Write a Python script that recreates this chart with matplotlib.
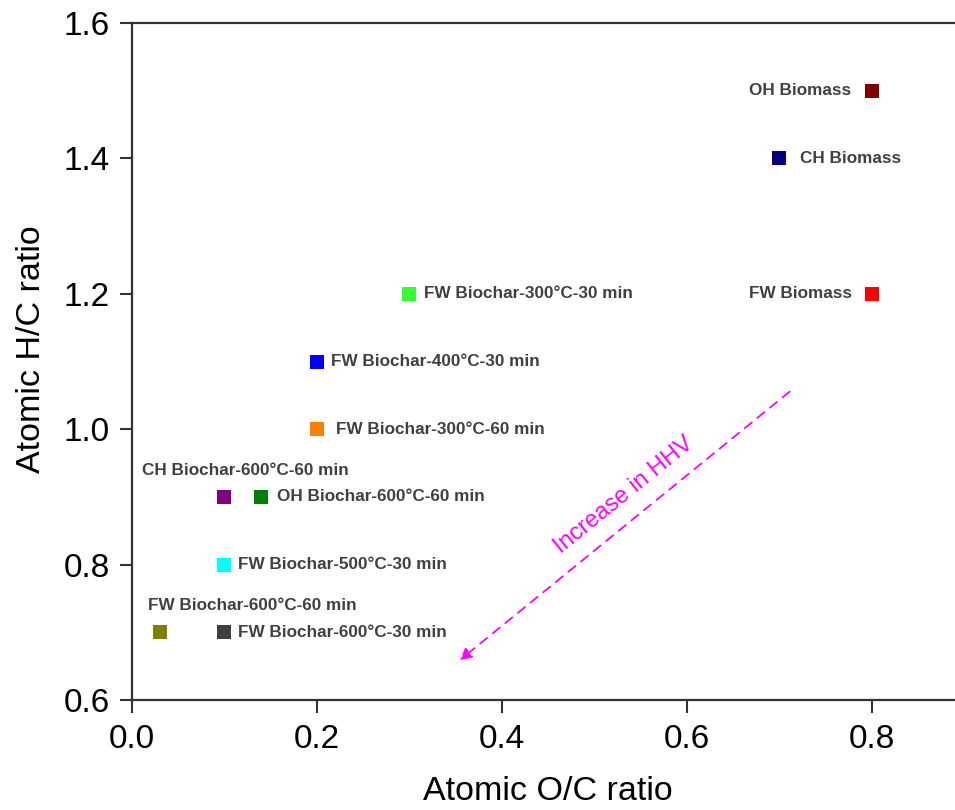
import matplotlib.pyplot as plt

plt.rcParams['font.family'] = ['Liberation Sans', 'DejaVu Sans']

# data
names = ['OH Biomass', 'CH Biomass', 'FW Biomass',
         'FW Biochar-300°C-30 min', 'FW Biochar-400°C-30 min',
         'FW Biochar-300°C-60 min', 'CH Biochar-600°C-60 min',
         'OH Biochar-600°C-60 min', 'FW Biochar-500°C-30 min',
         'FW Biochar-600°C-60 min', 'FW Biochar-600°C-30 min']
oc_ratio = [0.80, 0.70, 0.80, 0.30, 0.20, 0.20, 0.10, 0.14, 0.10, 0.03, 0.10]
hc_ratio = [1.50, 1.40, 1.20, 1.20, 1.10, 1.00, 0.90, 0.90, 0.80, 0.70, 0.70]
colors = ['#800000', '#000080', '#ff0000', '#33ff33', '#0000ff', '#ff8000',
          '#800080', '#008000', '#00ffff', '#808000', '#404040']
xticks = [0.0, 0.2, 0.4, 0.6, 0.8]
yticks = [0.6, 0.8, 1.0, 1.2, 1.4, 1.6]

# label placement (pixel offsets from marker, horizontal alignment)
label_pos = [(-21, 0, 'right'), (21, 0, 'left'), (-20, 0, 'right'),
             (15, 0, 'left'), (14, 0, 'left'), (19, 0, 'left'),
             (-82, 26, 'left'), (16, 0, 'left'), (14, 0, 'left'),
             (-12, 27, 'left'), (14, 0, 'left')]

fig = plt.figure(figsize=(9.55, 8.1), dpi=100)
ax = fig.add_axes([0.1382, 0.1358, 0.8618, 0.8358])

for x, y, c in zip(oc_ratio, hc_ratio, colors):
    ax.plot(x, y, 's', color=c, markersize=9.5, markeredgewidth=0, zorder=3)

for name, x, y, (dx, dy, ha) in zip(names, oc_ratio, hc_ratio, label_pos):
    ax.annotate(name, (x, y), xytext=(dx, dy), textcoords='offset pixels',
                ha=ha, va='center', fontsize=12.3, fontweight='bold',
                color='#404040')

# trend arrow
ax.annotate('', xy=(0.352, 0.656), xytext=(0.7135, 1.058),
            arrowprops=dict(arrowstyle='-|>', color='#ff00ff', lw=1.3,
                            linestyle=(0, (5, 4)), mutation_scale=18))
ax.text(0.532, 0.903, 'Increase in HHV', color='#ff00ff', fontsize=17,
        rotation=39, ha='center', va='center', rotation_mode='anchor')

ax.set_xlim(0, 0.89)
ax.set_ylim(0.6, 1.6)
ax.set_xticks(xticks)
ax.set_yticks(yticks)
ax.set_xticklabels(['%.1f' % v for v in xticks])
ax.set_yticklabels(['%.1f' % v for v in yticks])
ax.tick_params(direction='out', length=9, width=1.5, labelsize=24,
               color='#333333')
ax.tick_params(axis='y', pad=7)
ax.tick_params(axis='x', pad=8)
for side in ['left', 'bottom', 'top']:
    ax.spines[side].set_linewidth(1.6)
    ax.spines[side].set_color('#333333')
ax.spines['right'].set_visible(False)

ax.set_xlabel('Atomic O/C ratio', fontsize=24.5)
ax.set_ylabel('Atomic H/C ratio', fontsize=24.5)
ax.xaxis.set_label_coords(0.5055, -0.112)
ax.yaxis.set_label_coords(-0.103, 0.518)

fig.savefig('out.png', dpi=100)
